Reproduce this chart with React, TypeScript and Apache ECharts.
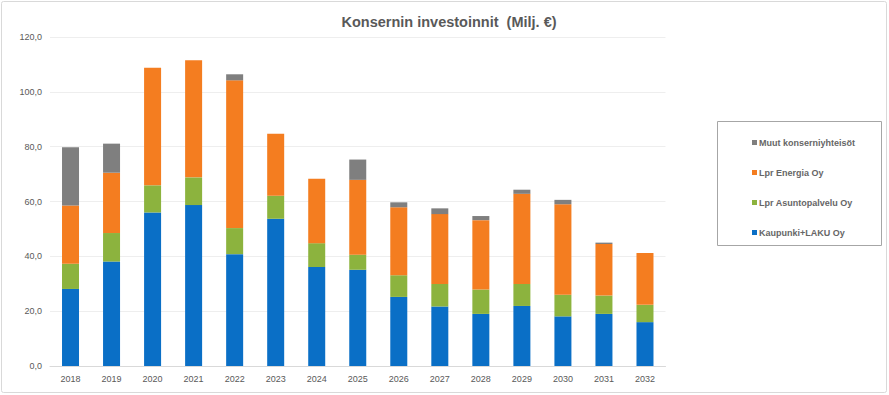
import React, { useEffect, useRef } from "react";
import * as echarts from "echarts";

const years = ["2018", "2019", "2020", "2021", "2022", "2023", "2024", "2025", "2026", "2027", "2028", "2029", "2030", "2031", "2032"];
const kaupunki = [28.1, 38.1, 56.0, 58.7, 40.8, 53.7, 36.1, 35.1, 25.2, 21.7, 19.0, 21.9, 18.1, 19.0, 16.0];
const asuntopalvelu = [9.2, 10.4, 9.9, 10.1, 9.5, 8.4, 8.7, 5.5, 7.9, 8.2, 8.9, 8.0, 7.9, 6.7, 6.3];
const energia = [21.2, 22.0, 42.9, 42.7, 53.9, 22.6, 23.5, 27.3, 24.8, 25.5, 25.3, 32.9, 33.0, 18.8, 18.9];
const muut = [21.3, 10.6, 0, 0, 2.2, 0, 0, 7.4, 1.8, 2.1, 1.5, 1.5, 1.6, 0.5, 0];

const seriesNames = ["Kaupunki+LAKU Oy", "Lpr Asuntopalvelu Oy", "Lpr Energia Oy", "Muut konserniyhteisöt"];
const colors = ["#0A6FC6", "#8CB33E", "#F47D20", "#7F7F7F"];

export default function App() {
  const ref = useRef<HTMLDivElement>(null);
  useEffect(() => {
    if (!ref.current) return;
    const chart = echarts.init(ref.current, null, { renderer: "svg" });
    const dataSets = [kaupunki, asuntopalvelu, energia, muut];
    chart.setOption({
      animation: false,
      backgroundColor: "#ffffff",
      textStyle: { fontFamily: "Liberation Sans, Arial, sans-serif" },
      title: {
        text: "Konsernin investoinnit  (Milj. €)",
        left: 444,
        textAlign: "center",
        top: 9,
        textStyle: { fontSize: 14.5, fontWeight: "bold", color: "#595959", fontFamily: "Liberation Sans, Arial, sans-serif" },
      },
      legend: {
        orient: "vertical",
        left: 747,
        top: 133,
        itemWidth: 5,
        itemHeight: 5,
        itemGap: 21,
        icon: "rect",
        data: [seriesNames[3], seriesNames[2], seriesNames[1], seriesNames[0]],
        textStyle: { fontSize: 9, fontWeight: "bold", color: "#666666", padding: [0, 0, 0, -3] },
      },
      graphic: [
        {
          type: "rect",
          shape: { x: 1.5, y: 1.5, width: 885, height: 391, r: 2 },
          style: { fill: "none", stroke: "#d9d9d9", lineWidth: 1 },
          silent: true,
        },
        {
          type: "rect",
          shape: { x: 717.5, y: 121.5, width: 164, height: 124 },
          style: { fill: "none", stroke: "#a6a6a6", lineWidth: 1 },
          silent: true,
        },
      ],
      grid: { left: 50, right: 223.5, top: 37, bottom: 29 },
      xAxis: {
        type: "category",
        data: years,
        axisLine: { lineStyle: { color: "#d9d9d9" } },
        axisTick: { show: false },
        axisLabel: { fontSize: 9, color: "#595959", margin: 8 },
      },
      yAxis: {
        type: "value",
        min: 0,
        max: 120,
        interval: 20,
        axisLine: { show: false },
        axisTick: { show: false },
        splitLine: { lineStyle: { color: "#eeeeee" } },
        axisLabel: {
          fontSize: 9,
          color: "#595959",
          margin: 8,
          formatter: (v: number) => v.toFixed(1).replace(".", ","),
        },
      },
      series: dataSets.map((d, i) => ({
        name: seriesNames[i],
        type: "bar",
        stack: "total",
        data: d,
        barWidth: 17,
        itemStyle: { color: colors[i] },
      })),
    });
    return () => chart.dispose();
  }, []);
  return <div ref={ref} style={{ position: "fixed", left: 0, top: 0, width: 889, height: 395 }} />;
}
